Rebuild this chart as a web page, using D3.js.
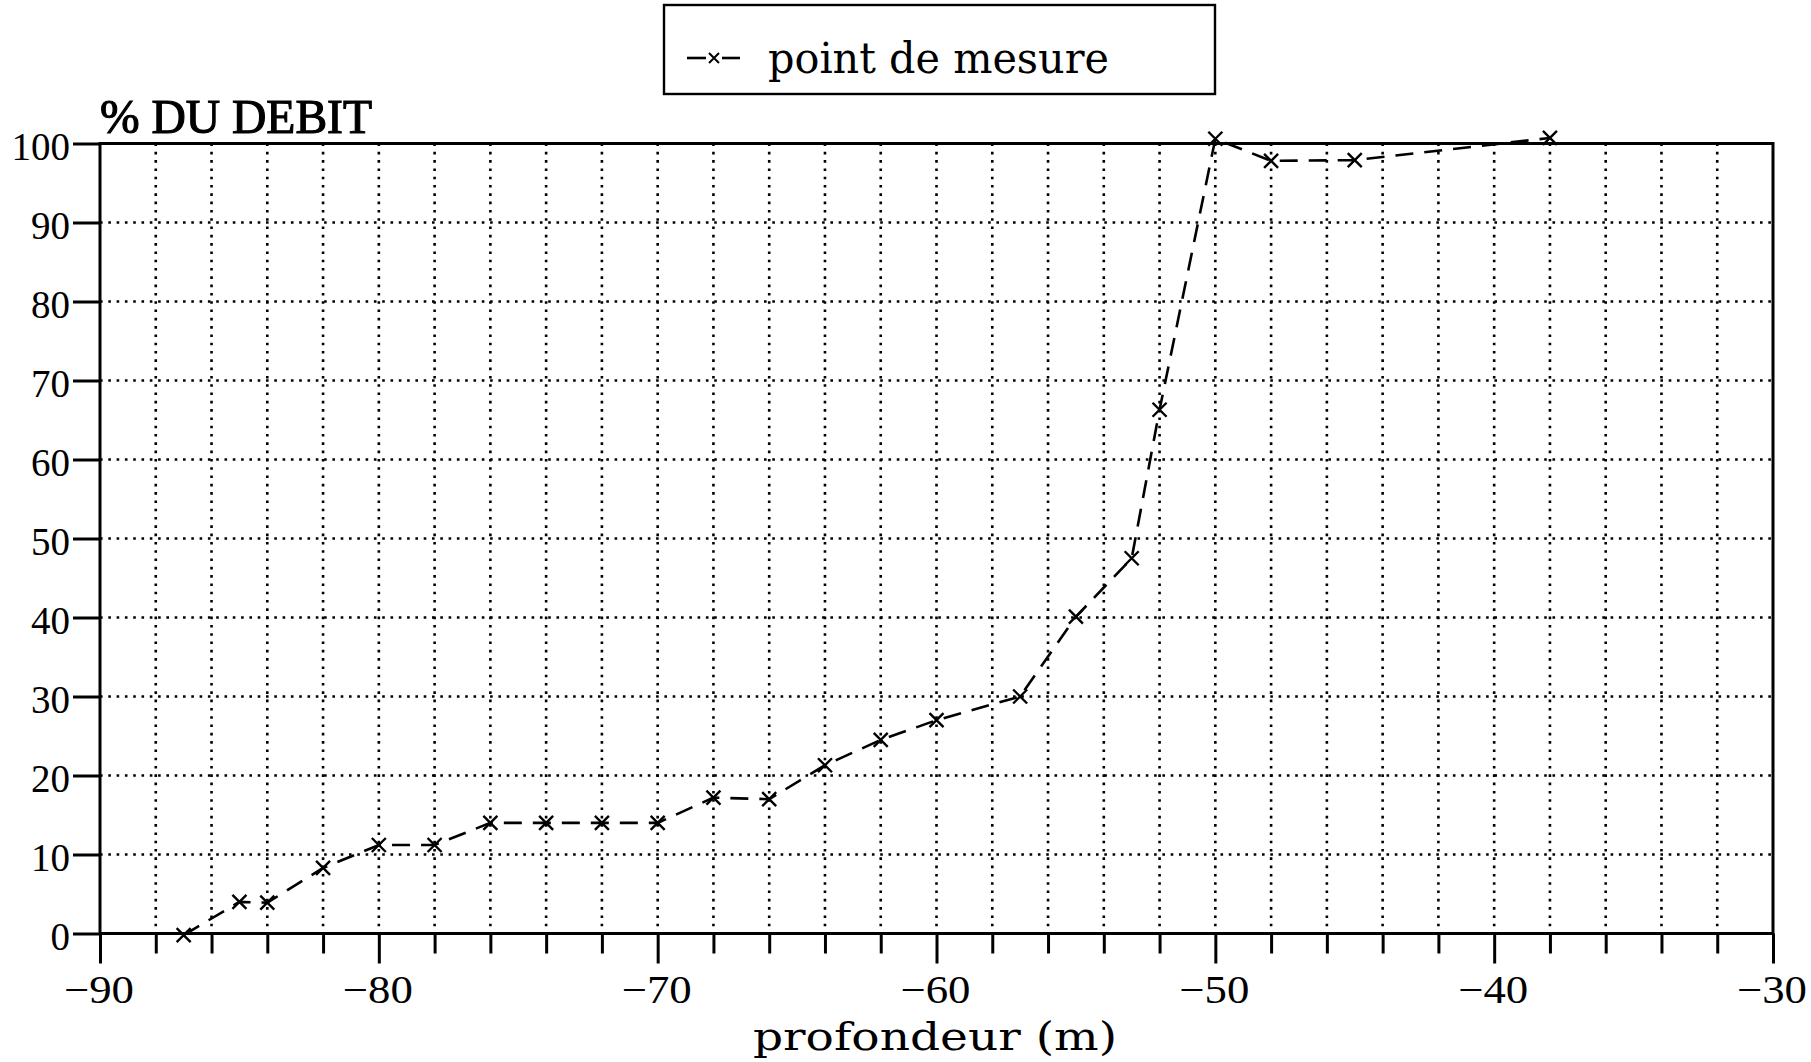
<!DOCTYPE html>
<html>
<head>
<meta charset="utf-8">
<script src="https://d3js.org/d3.v7.min.js"></script>
<style>
  body { margin: 0; background: #fff; }
  svg { display: block; }
  .lbl { font-family: "Liberation Serif", serif; fill: #000; }
  .ttl { font-family: "DejaVu Serif", serif; fill: #000; }
</style>
</head>
<body>
<svg width="1811" height="1062"></svg>
<script>
// depth (m) of each measuring point
var depths = [-87, -85, -84, -82, -80, -78, -76, -74, -72, -70, -68, -66,
              -64, -62, -60, -57, -55, -53, -52, -50, -48, -45, -38];
// % of the flow at each depth
var flowPct = [-0.2, 4.0, 3.9, 8.3, 11.2, 11.2, 14.0, 14.0, 14.0, 14.0, 17.2, 17.0,
               21.3, 24.5, 27.0, 30.0, 40.1, 47.5, 66.3, 100.6, 97.8, 97.9, 100.7];

var xTickLabels = [-90, -80, -70, -60, -50, -40, -30];
var yTickLabels = [0, 10, 20, 30, 40, 50, 60, 70, 80, 90, 100];

var yTitle = "% DU DEBIT";
var xTitle = "profondeur (m)";
var legendLabel = "point de mesure";

var svg = d3.select("svg");

var x = d3.scaleLinear().domain([-90, -30]).range([100, 1773]);
var y = d3.scaleLinear().domain([0, 100]).range([933.5, 143.5]);

// dotted grid: verticals every 2 m, horizontals every 10 %
var grid = svg.append("g")
    .attr("stroke", "#000")
    .attr("stroke-width", 2.6)
    .attr("stroke-dasharray", "2.6,5.7");

grid.selectAll(".vg")
  .data(d3.range(-88, -30, 2))
  .enter().append("line")
    .attr("x1", function(d) { return x(d); })
    .attr("x2", function(d) { return x(d); })
    .attr("y1", y(100))
    .attr("y2", y(0));

grid.selectAll(".hg")
  .data(d3.range(10, 100, 10))
  .enter().append("line")
    .attr("x1", x(-90))
    .attr("x2", x(-30))
    .attr("y1", function(d) { return y(d); })
    .attr("y2", function(d) { return y(d); });

// frame
svg.append("rect")
    .attr("x", x(-90))
    .attr("y", y(100))
    .attr("width", x(-30) - x(-90))
    .attr("height", y(0) - y(100))
    .attr("fill", "none")
    .attr("stroke", "#000")
    .attr("stroke-width", 3);

// bottom axis: long ticks every 10, short ones every 2
var xAxis = d3.axisBottom(x)
    .tickValues(d3.range(-90, -29, 2))
    .tickSize(20)
    .tickFormat("");
var gx = svg.append("g")
    .attr("transform", "translate(0," + y(0) + ")")
    .call(xAxis);
gx.select(".domain").remove();
gx.selectAll(".tick line")
    .attr("stroke-width", 3)
    .attr("y2", function(d) { return d % 10 == 0 ? 30 : 20; });

svg.selectAll(".xl")
  .data(xTickLabels)
  .enter().append("text")
    .attr("class", "lbl")
    .attr("x", function(d) { return x(d) - 1; })
    .attr("y", 1003)
    .attr("text-anchor", "middle")
    .attr("font-size", 40)
    .attr("textLength", 70)
    .attr("lengthAdjust", "spacingAndGlyphs")
    .text(function(d) { return d < 0 ? "\u2212" + Math.abs(d) : d; });

// left axis
var yAxis = d3.axisLeft(y)
    .tickValues(yTickLabels)
    .tickSize(27)
    .tickFormat("");
var gy = svg.append("g")
    .attr("transform", "translate(" + x(-90) + ",0)")
    .call(yAxis);
gy.select(".domain").remove();
gy.selectAll(".tick line").attr("stroke-width", 3);

svg.selectAll(".yl")
  .data(yTickLabels)
  .enter().append("text")
    .attr("class", "lbl")
    .attr("x", 70)
    .attr("y", function(d) { return y(d) + 16; })
    .attr("text-anchor", "end")
    .attr("font-size", 39)
    .text(function(d) { return d; });

// titles
svg.append("text")
    .attr("class", "lbl")
    .attr("x", 100)
    .attr("y", 133)
    .attr("font-size", 49)
    .attr("stroke", "#000")
    .attr("stroke-width", 1.2)
    .attr("textLength", 272)
    .attr("lengthAdjust", "spacingAndGlyphs")
    .text(yTitle);

svg.append("text")
    .attr("class", "ttl")
    .attr("x", 753)
    .attr("y", 1050)
    .attr("font-size", 40)
    .attr("textLength", 364)
    .attr("lengthAdjust", "spacingAndGlyphs")
    .text(xTitle);

// measured curve
var pts = depths.map(function(d, i) { return [d, flowPct[i]]; });

var line = d3.line()
    .x(function(d) { return x(d[0]); })
    .y(function(d) { return y(d[1]); });

svg.append("path")
    .datum(pts)
    .attr("d", line)
    .attr("fill", "none")
    .attr("stroke", "#000")
    .attr("stroke-width", 2.6)
    .attr("stroke-dasharray", "18,11");

function cross(s) {
  return "M" + (-s) + "," + (-s) + "L" + s + "," + s +
         "M" + s + "," + (-s) + "L" + (-s) + "," + s;
}

svg.selectAll(".mk")
  .data(pts)
  .enter().append("path")
    .attr("transform", function(d) { return "translate(" + x(d[0]) + "," + y(d[1]) + ")"; })
    .attr("d", cross(7))
    .attr("fill", "none")
    .attr("stroke", "#000")
    .attr("stroke-width", 2.4);

// legend
var leg = svg.append("g");
leg.append("rect")
    .attr("x", 664)
    .attr("y", 5)
    .attr("width", 551)
    .attr("height", 89)
    .attr("fill", "none")
    .attr("stroke", "#000")
    .attr("stroke-width", 2.4);
leg.append("line")
    .attr("x1", 687).attr("x2", 706)
    .attr("y1", 58).attr("y2", 58)
    .attr("stroke", "#000").attr("stroke-width", 2.6);
leg.append("line")
    .attr("x1", 722).attr("x2", 740)
    .attr("y1", 58).attr("y2", 58)
    .attr("stroke", "#000").attr("stroke-width", 2.6);
leg.append("path")
    .attr("transform", "translate(714,58)")
    .attr("d", cross(5))
    .attr("fill", "none")
    .attr("stroke", "#000")
    .attr("stroke-width", 2);
leg.append("text")
    .attr("class", "ttl")
    .attr("x", 768)
    .attr("y", 73)
    .attr("font-size", 42)
    .attr("textLength", 341)
    .attr("lengthAdjust", "spacingAndGlyphs")
    .text(legendLabel);
</script>
</body>
</html>
